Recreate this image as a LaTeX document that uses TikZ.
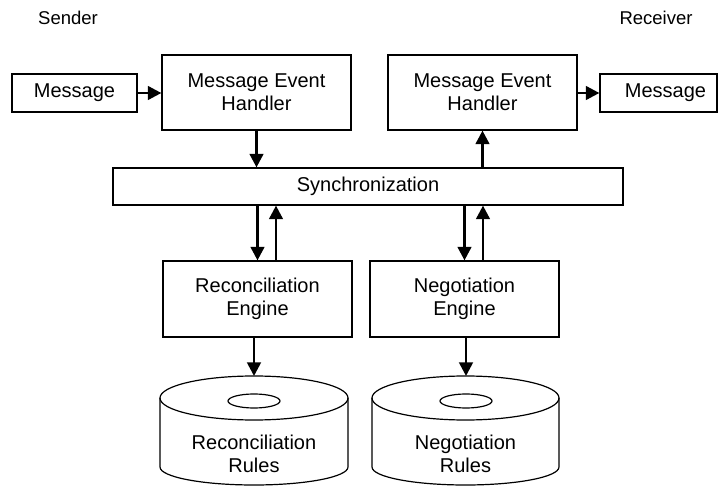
\documentclass[tikz,border=0pt]{standalone}
\usepackage{fontspec}
\setmainfont{Liberation Sans}
\usetikzlibrary{arrows.meta,calc}
\tikzset{
  box/.style={draw, line width=1.2pt, inner sep=0pt, align=center, font=\fontsize{20}{23.3}\selectfont},
  lbl/.style={inner sep=0pt, align=center, font=\fontsize{20}{23.3}\selectfont},
  side/.style={inner sep=0pt, font=\fontsize{18.5}{22}\selectfont},
  arr/.style={line width=2.7pt, -{Triangle[length=13.5pt,width=13.5pt]}},
  cyl/.style={line width=1.2pt}
}
\begin{document}
\begin{tikzpicture}[x=1pt,y=-1pt]
\useasboundingbox (0,0) rectangle (718,486);
\node[side] (sender) at (68,18) {Sender};
\node[side] (receiver) at (656,18) {Receiver};

\node[box, minimum width=125pt, minimum height=38pt] (lm) at (74.5,93) {Message};
\node[box, minimum width=189pt, minimum height=75pt] (lmeh) at (256.5,92.5) {Message Event\\Handler};
\node[box, minimum width=189pt, minimum height=75pt] (rmeh) at (482.5,92.5) {Message Event\\Handler};
\node[box, minimum width=117pt, minimum height=38pt, text width=95pt, align=flush right] (rm) at (658.5,93) {Message};
\node[box, minimum width=510pt, minimum height=37pt] (sync) at (368,186.5) {Synchronization};
\node[box, minimum width=189pt, minimum height=76pt] (re) at (257.5,299) {Reconciliation\\Engine};
\node[box, minimum width=189pt, minimum height=76pt] (ne) at (464.5,299) {Negotiation\\Engine};

% cylinders
\draw[cyl] (254,398) ellipse [x radius=94, y radius=22];
\draw[cyl] (254,401) ellipse [x radius=26, y radius=7];
\draw[cyl] (160,398) -- (160,467) arc[start angle=180, end angle=0, x radius=94, y radius=18] -- (348,398);
\coordinate (rrtop) at (254,376);
\node[lbl] (rr) at (254,454) {Reconciliation\\Rules};

\draw[cyl] (465.5,398) ellipse [x radius=93.5, y radius=22];
\draw[cyl] (466,401) ellipse [x radius=26, y radius=7];
\draw[cyl] (372,398) -- (372,467) arc[start angle=180, end angle=0, x radius=93.5, y radius=18] -- (559,398);
\coordinate (nrtop) at (466,376);
\node[lbl] (nr) at (465.5,454) {Negotiation\\Rules};

% connectors
\draw[arr] (lm.east) -- (lmeh.west |- lm.east);
\draw[arr] (rmeh.east |- rm.west) -- (rm.west);
\draw[arr] (lmeh.south) -- (lmeh.south |- sync.north);
\draw[arr] (rmeh.south |- sync.north) -- (rmeh.south);

\coordinate (reU) at ([xshift=18.5pt]re.north);
\coordinate (neU) at ([xshift=18.5pt]ne.north);
\draw[arr] (re.north |- sync.south) -- (re.north);
\draw[arr] (reU) -- (reU |- sync.south);
\draw[arr] (ne.north |- sync.south) -- (ne.north);
\draw[arr] (neU) -- (neU |- sync.south);

\draw[arr] (re.south -| rrtop) -- (rrtop);
\draw[arr] (ne.south -| nrtop) -- (nrtop);
\end{tikzpicture}
\end{document}
